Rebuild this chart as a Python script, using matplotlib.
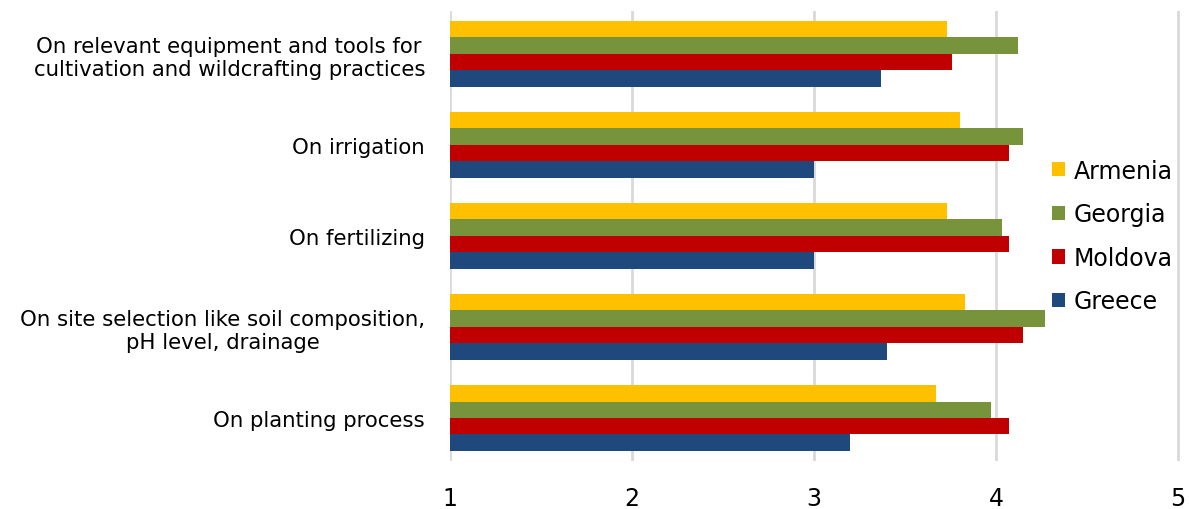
import matplotlib
matplotlib.use("Agg")
import matplotlib.pyplot as plt
import numpy as np

categories = [
    "On planting process",
    "On site selection like soil composition,\npH level, drainage",
    "On fertilizing",
    "On irrigation",
    "On relevant equipment and tools for\ncultivation and wildcrafting practices",
]
series_names = ["Armenia", "Georgia", "Moldova", "Greece"]
armenia = [3.67, 3.83, 3.73, 3.80, 3.73]
georgia = [3.97, 4.27, 4.03, 4.15, 4.12]
moldova = [4.07, 4.15, 4.07, 4.07, 3.76]
greece = [3.20, 3.40, 3.00, 3.00, 3.37]
x_ticks = [1, 2, 3, 4, 5]
colors = ["#FFC000", "#77933C", "#C00000", "#1F497D"]

plt.rcParams['font.family'] = ['DejaVu Sans']

fig = plt.figure(figsize=(11.89, 5.10), dpi=100)
ax = fig.add_axes([450/1189, 1-462/510, (1180-450)/1189, (462-12)/510])

y = np.arange(len(categories))
h = 0.181
data = [armenia, georgia, moldova, greece]
offsets = [1.5*h, 0.5*h, -0.5*h, -1.5*h]
for vals, col, off, name in zip(data, colors, offsets, series_names):
    ax.barh(y + off, np.array(vals) - 1, left=1, height=h, color=col,
            label=name, zorder=3)

ax.set_xlim(1, 5.01)
ax.set_ylim(-0.472, 4.469)
ax.set_xticks(x_ticks)
ax.set_xticklabels([str(t) for t in x_ticks], fontsize=17)
ax.set_yticks(y)
ax.set_yticklabels(categories, fontsize=15.3)
for lbl in ax.get_yticklabels():
    lbl.set_multialignment('center')
ax.tick_params(axis='both', length=0)
ax.tick_params(axis='y', pad=18)
ax.tick_params(axis='x', pad=18)
ax.grid(axis='x', color='#D9D9D9', linewidth=2, zorder=0)
for s in ax.spines.values():
    s.set_visible(False)

leg = ax.legend(loc='center left', bbox_to_anchor=(1043/1189, 1-237/510), bbox_transform=fig.transFigure,
                frameon=False, fontsize=17, handlelength=0.55, handleheight=0.55,
                handletextpad=0.35, labelspacing=0.83, borderaxespad=0)

fig.savefig("out.png", dpi=100)
